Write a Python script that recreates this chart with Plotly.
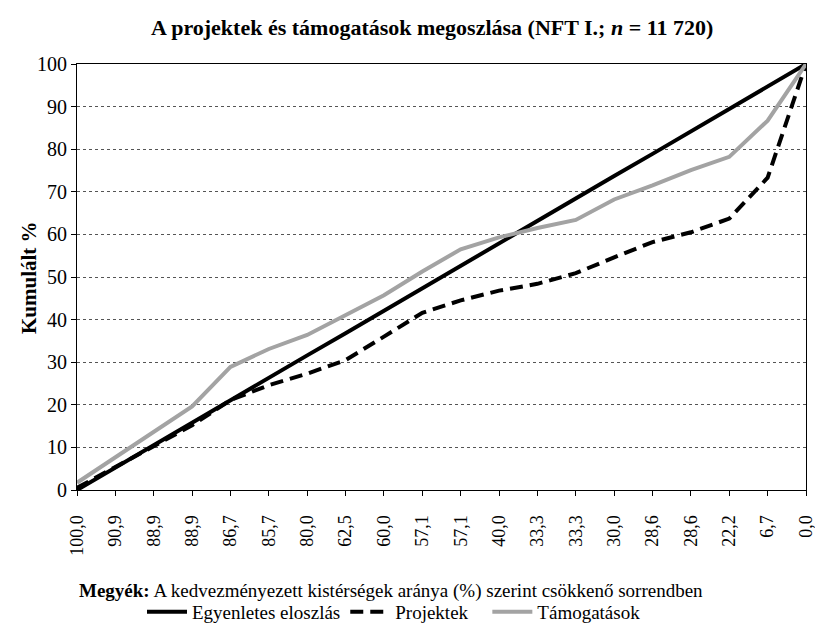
import plotly.graph_objects as go

categories = ["100,0", "90,9", "88,9", "88,9", "86,7", "85,7", "80,0", "62,5", "60,0", "57,1",
              "57,1", "40,0", "33,3", "33,3", "30,0", "28,6", "28,6", "22,2", "6,7", "0,0"]
egyenletes = [0, 5.3, 10.5, 15.8, 21.1, 26.3, 31.6, 36.8, 42.1, 47.4,
              52.6, 57.9, 63.2, 68.4, 73.7, 78.9, 84.2, 89.5, 94.7, 100]
projektek = [0.5, 5.4, 10.4, 15.2, 21.1, 24.6, 27.3, 30.5, 36.0, 41.6,
             44.5, 46.8, 48.4, 50.9, 54.6, 58.2, 60.5, 63.7, 73.3, 100]
tamogatasok = [1.7, 7.6, 13.5, 19.6, 28.9, 33.1, 36.4, 41.0, 45.7, 51.3,
               56.5, 59.3, 61.5, 63.4, 68.2, 71.5, 75.1, 78.2, 86.7, 100]

pos = list(range(len(categories)))
FONT = "Liberation Serif"

fig = go.Figure()
fig.add_trace(go.Scatter(x=pos, y=egyenletes, mode="lines", name="Egyenletes eloszlás",
                         line=dict(color="black", width=4)))
fig.add_trace(go.Scatter(x=pos, y=projektek, mode="lines", name="Projektek\u00a0\u00a0\u00a0",
                         line=dict(color="black", width=4, dash="13px,7px")))
fig.add_trace(go.Scatter(x=pos, y=tamogatasok, mode="lines", name="Támogatások",
                         line=dict(color="#A3A3A3", width=4)))

PT, PB = 64, 490  # plot top / bottom in px
PL, PR = 77, 806
PH = PB - PT
PW = PR - PL

fig.update_layout(
    width=815, height=623,
    margin=dict(l=PL, r=815 - PR, t=PT, b=623 - PB, autoexpand=False),
    paper_bgcolor="white", plot_bgcolor="white",
    font=dict(family=FONT, color="black", size=19),
    showlegend=True,
    legend=dict(orientation="h", x=(142 - PL) / PW, xanchor="left", y=(PB - 612) / PH,
                yanchor="middle", font=dict(size=19, family=FONT), itemwidth=40,
                tracegroupgap=0, bgcolor="rgba(0,0,0,0)"),
    annotations=[
        dict(text="<b>A projektek és támogatások megoszlása (NFT I.; <i>n</i> = 11 720)</b>",
             xref="paper", yref="paper", x=(432 - PL) / PW, y=(PB - 28) / PH, xanchor="center",
             yanchor="middle", showarrow=False, font=dict(size=22, family=FONT)),
        dict(text="<b>Kumulált %</b>", textangle=-90,
             xref="paper", yref="paper", x=(29 - PL) / PW, y=0.5, xanchor="center",
             yanchor="middle", showarrow=False, font=dict(size=21, family=FONT)),
        dict(text="<b>Megyék:</b> A kedvezményezett kistérségek aránya (%) szerint csökkenő sorrendben",
             xref="paper", yref="paper", x=0, y=(PB - 591) / PH,
             xanchor="left", yanchor="middle", showarrow=False, font=dict(size=19, family=FONT)),
    ],
)
fig.update_xaxes(
    range=[0, len(categories) - 1], tickmode="array", tickvals=pos, ticktext=categories,
    tickangle=-90, ticks="outside", ticklen=5, tickcolor="black", showgrid=False,
    showline=True, linecolor="black", linewidth=1, mirror=True, zeroline=False,
    tickfont=dict(size=18, family=FONT), ticklabeloverflow="allow", ticklabelstandoff=12,
)
fig.update_yaxes(
    range=[0, 100], dtick=10, ticks="outside", ticklen=5, tickcolor="black",
    showgrid=True, gridcolor="#555555", gridwidth=1, griddash="3px,3px",
    showline=True, linecolor="black", linewidth=1, mirror=True, zeroline=False,
    tickfont=dict(size=20, family=FONT),
)

fig.write_html("out.html", config={"displayModeBar": False},
               post_script="document.body.style.margin='0';document.body.style.overflow='hidden';")
